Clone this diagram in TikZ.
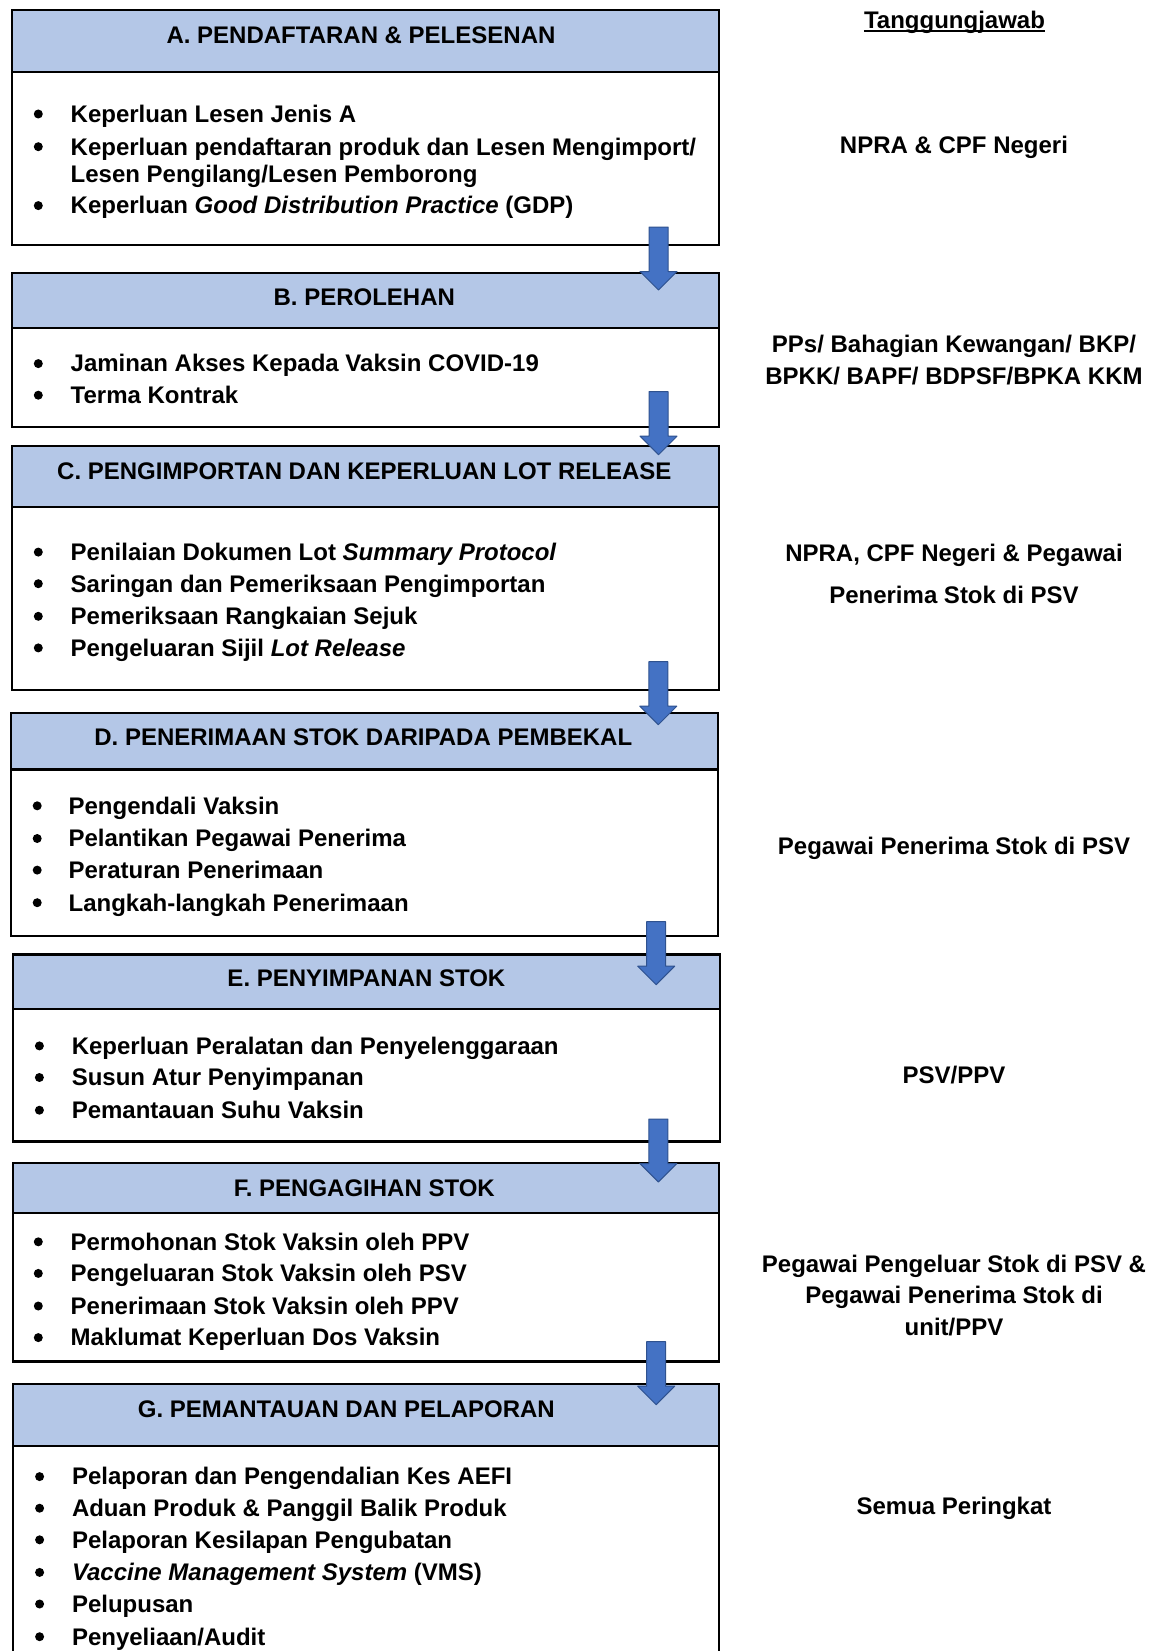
\documentclass[tikz,border=0pt]{standalone}
\usepackage{fontspec}
\setmainfont{Liberation Sans}
\definecolor{hdr}{HTML}{B4C7E7}
\definecolor{arrfill}{HTML}{4472C4}
\definecolor{arrline}{HTML}{2F528F}
\newcommand\bodyfont{\fontsize{24}{30}\selectfont\bfseries}
\tikzset{
  boxline/.style={draw=black, line width=2.2pt},
  hdrbox/.style={boxline, fill=hdr, rectangle, inner sep=0pt, anchor=north west},
  bodybox/.style={boxline, fill=white, rectangle, inner sep=0pt, anchor=north west},
  txt/.style={font=\bodyfont, inner sep=0pt, anchor=base west},
  htxt/.style={font=\bodyfont, inner sep=0pt, anchor=base},
  bul/.style={circle, fill=black, inner sep=0pt, minimum size=9pt},
  rtxt/.style={font=\bodyfont, inner sep=0pt, anchor=base},
  blockarrow/.pic={\draw[fill=arrfill, draw=arrline, line width=1pt, line join=round]
     (-9.5,0) -- (-9.5,44.5) -- (-18.5,44.5) -- (0,63) -- (18.5,44.5) -- (9.5,44.5) -- (9.5,0) -- cycle;}
}
\newcommand\bitem[5]{%
  \node[bul] (#1b) at (#2,#4-8.3) {};
  \node[txt] (#1) at (#3,#4) {#5};}
\begin{document}
\begin{tikzpicture}[x=1pt,y=-1pt]
\useasboundingbox[fill=white] (0,0) rectangle (1153,1651);
\clip (0,0) rectangle (1153,1651);

% ---- boxes ----
\node[hdrbox, minimum width=707.5pt, minimum height=62pt] (Ah) at (10.5,9) {};
\node[bodybox, minimum width=707.5pt, minimum height=173pt] (Ab) at (10.5,71) {};
\node[hdrbox, minimum width=707.5pt, minimum height=55pt] (Bh) at (10.5,271.5) {};
\node[bodybox, minimum width=707.5pt, minimum height=99pt] (Bb) at (10.5,326.5) {};
\node[hdrbox, minimum width=707.5pt, minimum height=60.5pt] (Ch) at (10.5,445) {};
\node[bodybox, minimum width=707.5pt, minimum height=183pt] (Cb) at (10.5,505.5) {};
\node[hdrbox, minimum width=707pt, minimum height=56.3pt] (Dh) at (9.5,712) {};
\node[bodybox, minimum width=707pt, minimum height=166.7pt] (Db) at (9.5,768.3) {};
\node[hdrbox, minimum width=707.6pt, minimum height=54.4pt] (Eh) at (11.6,953.3) {};
\node[bodybox, minimum width=707.6pt, minimum height=132.7pt] (Eb) at (11.6,1007.7) {};
\node[hdrbox, minimum width=706.4pt, minimum height=50.2pt] (Fh) at (11.6,1162) {};
\node[bodybox, minimum width=706.4pt, minimum height=148.1pt] (Fb) at (11.6,1212.2) {};
\node[hdrbox, minimum width=706.1pt, minimum height=62pt] (Gh) at (11.5,1383) {};
\node[bodybox, minimum width=706.1pt, minimum height=225pt] (Gb) at (11.5,1445) {};

% ---- header texts ----
\node[htxt] (Aht) at (361,43.3) {A. PENDAFTARAN \& PELESENAN};
\node[htxt] (Bht) at (364.3,305.6) {B. PEROLEHAN};
\node[htxt] (Cht) at (364.3,479.3) {C. PENGIMPORTAN DAN KEPERLUAN LOT RELEASE};
\node[htxt] (Dht) at (363.3,745.7) {D. PENERIMAAN STOK DARIPADA PEMBEKAL};
\node[htxt] (Eht) at (366.4,986.8) {E. PENYIMPANAN STOK};
\node[htxt] (Fht) at (364.3,1196.4) {F. PENGAGIHAN STOK};
\node[htxt] (Ght) at (346.4,1417.6) {G. PEMANTAUAN DAN PELAPORAN};

% ---- body items ----
\bitem{A1}{38.3}{70.5}{122.3}{Keperluan Lesen Jenis A}
\bitem{A2}{38.3}{70.5}{155}{Keperluan pendaftaran produk dan Lesen Mengimport/}
\node[txt] (A2x) at (70.5,182.3) {Lesen Pengilang/Lesen Pemborong};
\bitem{A3}{38.3}{70.5}{213.9}{Keperluan \textit{Good Distribution Practice} (GDP)}

\bitem{B1}{38.3}{70.5}{371.9}{Jaminan Akses Kepada Vaksin COVID-19}
\bitem{B2}{38.3}{70.5}{403.5}{Terma Kontrak}

\bitem{C1}{38.3}{70.5}{560.4}{Penilaian Dokumen Lot \textit{Summary Protocol}}
\bitem{C2}{38.3}{70.5}{592}{Saringan dan Pemeriksaan Pengimportan}
\bitem{C3}{38.3}{70.5}{624.6}{Pemeriksaan Rangkaian Sejuk}
\bitem{C4}{38.3}{70.5}{656.2}{Pengeluaran Sijil \textit{Lot Release}}

\bitem{D1}{37.2}{68.4}{814.1}{Pengendali Vaksin}
\bitem{D2}{37.2}{68.4}{846.8}{Pelantikan Pegawai Penerima}
\bitem{D3}{37.2}{68.4}{878.4}{Peraturan Penerimaan}
\bitem{D4}{37.2}{68.4}{911}{Langkah-langkah Penerimaan}

\bitem{E1}{39.4}{71.6}{1054.2}{Keperluan Peralatan dan Penyelenggaraan}
\bitem{E2}{39.4}{71.6}{1085.8}{Susun Atur Penyimpanan}
\bitem{E3}{39.4}{71.6}{1118.5}{Pemantauan Suhu Vaksin}

\bitem{F1}{38.3}{70.5}{1250.1}{Permohonan Stok Vaksin oleh PPV}
\bitem{F2}{38.3}{70.5}{1281.7}{Pengeluaran Stok Vaksin oleh PSV}
\bitem{F3}{38.3}{70.5}{1314.3}{Penerimaan Stok Vaksin oleh PPV}
\bitem{F4}{38.3}{70.5}{1345.9}{Maklumat Keperluan Dos Vaksin}

\bitem{G1}{39.6}{71.8}{1484.9}{Pelaporan dan Pengendalian Kes AEFI}
\bitem{G2}{39.6}{71.8}{1516.5}{Aduan Produk \& Panggil Balik Produk}
\bitem{G3}{39.6}{71.8}{1548.1}{Pelaporan Kesilapan Pengubatan}
\bitem{G4}{39.6}{71.8}{1580.7}{\textit{Vaccine Management System} (VMS)}
\bitem{G5}{39.6}{71.8}{1612.3}{Pelupusan}
\bitem{G6}{39.6}{71.8}{1645}{Penyeliaan/Audit}

% ---- right column ----
\node[rtxt] (R0) at (954.5,28.6) {Tanggungjawab};
\draw[line width=1.6pt] ([yshift=-2.6pt]R0.base west) -- ([yshift=-2.6pt]R0.base east);
\node[rtxt] (R1) at (954,153.9) {NPRA \& CPF Negeri};
\node[rtxt] (R2a) at (954,352.9) {PPs/ Bahagian Kewangan/ BKP/};
\node[rtxt] (R2b) at (954,384.5) {BPKK/ BAPF/ BDPSF/BPKA KKM};
\node[rtxt] (R3a) at (954,561.4) {NPRA, CPF Negeri \& Pegawai};
\node[rtxt] (R3b) at (954,603.5) {Penerima Stok di PSV};
\node[rtxt] (R4) at (954,854.2) {Pegawai Penerima Stok di PSV};
\node[rtxt] (R5) at (954,1083.7) {PSV/PPV};
\node[rtxt] (R6a) at (954,1272.2) {Pegawai Pengeluar Stok di PSV \&};
\node[rtxt] (R6b) at (954,1303.8) {Pegawai Penerima Stok di};
\node[rtxt] (R6c) at (954,1335.4) {unit/PPV};
\node[rtxt] (R7) at (954,1514.4) {Semua Peringkat};

% ---- arrows ----
\coordinate (ar1) at (658.5,227);
\coordinate (ar2) at (658.5,391.7);
\coordinate (ar3) at (658.3,661.7);
\coordinate (ar4) at (656.2,921.7);
\coordinate (ar5) at (658.3,1119);
\coordinate (ar6) at (656.2,1341.7);
\foreach \a in {ar1,ar2,ar3,ar4,ar5,ar6} \pic at (\a) {blockarrow};
\end{tikzpicture}
\end{document}
